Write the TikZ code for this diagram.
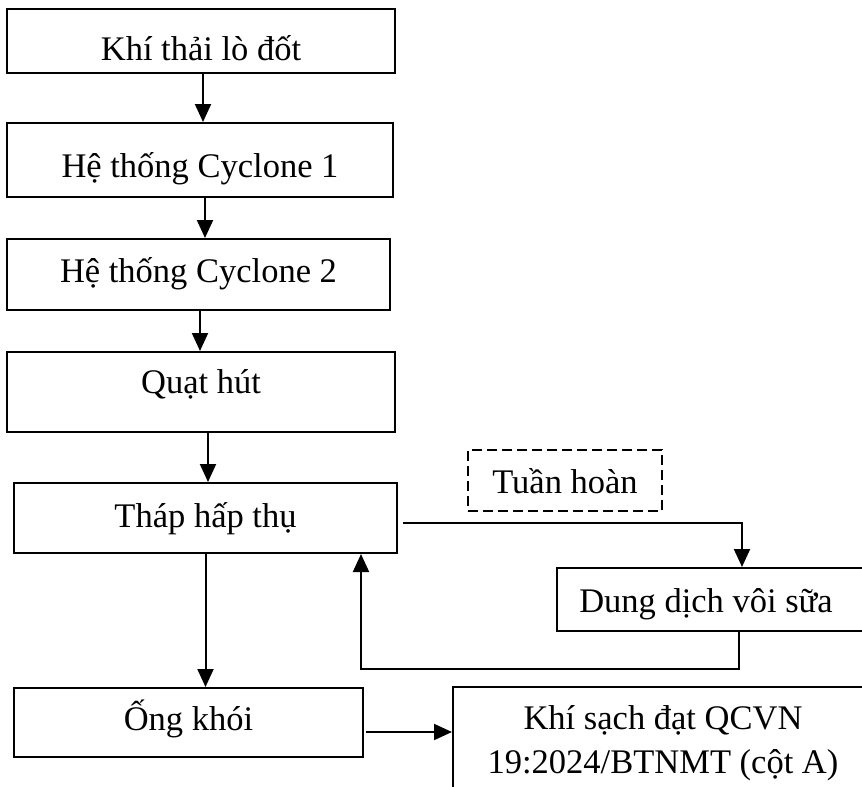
\documentclass[tikz,border=0pt]{standalone}
\usepackage{fontspec}
\setmainfont{Liberation Serif}
\usetikzlibrary{arrows.meta}
\begin{document}
\begin{tikzpicture}[
  font=\fontsize{34.5}{44}\selectfont,
  box/.style={draw, line width=2pt, rectangle, inner sep=0pt, text depth=0pt},
  dbox/.style={box, dash pattern=on 10pt off 5pt},
  arr/.style={line width=2pt, -{Triangle[length=18pt,width=16pt]}},
  ln/.style={line width=2pt}
]
\useasboundingbox (0,0) rectangle (862pt,-787pt);
\node[box, minimum width=388pt, minimum height=64pt, text height=38pt] (A) at (201pt,-41pt) {Khí thải lò đốt};
\node[box, minimum width=386pt, minimum height=74pt, text height=34pt] (B) at (200pt,-160pt) {Hệ thống Cyclone 1};
\node[box, minimum width=383pt, minimum height=71pt, text height=16pt] (C) at (198.5pt,-274.5pt) {Hệ thống Cyclone 2};
\node[box, minimum width=388pt, minimum height=80pt, text height=2pt] (D) at (201pt,-392pt) {Quạt hút};
\node[box, minimum width=383pt, minimum height=70pt, text height=18pt] (E) at (205.5pt,-518pt) {Tháp hấp thụ};
\node[dbox, minimum width=194pt, minimum height=61pt, text height=25pt] (T) at (565pt,-480.5pt) {Tuần hoàn};
\node[box, minimum width=323pt, minimum height=63pt, text height=25pt] (DD) at (718.5pt,-599.5pt) {Dung dịch vôi sữa\hspace*{25pt}};
\node[box, minimum width=349pt, minimum height=69pt, text height=15pt] (F) at (188.5pt,-722.5pt) {Ống khói};
\node[box, anchor=north, minimum width=420pt, inner xsep=0pt, inner ysep=16pt, align=center, text depth=] (K) at (663pt,-686pt)
  {\rule{0pt}{26pt}Khí sạch đạt QCVN\\19:2024/BTNMT (cột A)\rule[-30pt]{0pt}{30pt}};
\draw[arr] ([xshift=2pt]A.south) -- ([xshift=3pt]B.north);
\draw[arr] ([xshift=5pt]B.south) -- ([xshift=6.5pt]C.north);
\draw[arr] ([xshift=1.5pt]C.south) -- ([xshift=-1pt]D.north);
\draw[arr] ([xshift=7pt]D.south) -- ([xshift=2.5pt]E.north);
\draw[arr] (E.south) -- (E.south |- F.north);
\draw[arr] ([shift={(5pt,-5pt)}]E.east) -| ([xshift=23.5pt]DD.north);
\draw[arr] ([xshift=20.5pt]DD.south) -- ++(0,-37pt) -| ([xshift=155.5pt]E.south);
\draw[arr] ([shift={(2pt,-9.5pt)}]F.east) -- ([yshift=-9.5pt]F.east -| K.west);
\end{tikzpicture}
\end{document}
